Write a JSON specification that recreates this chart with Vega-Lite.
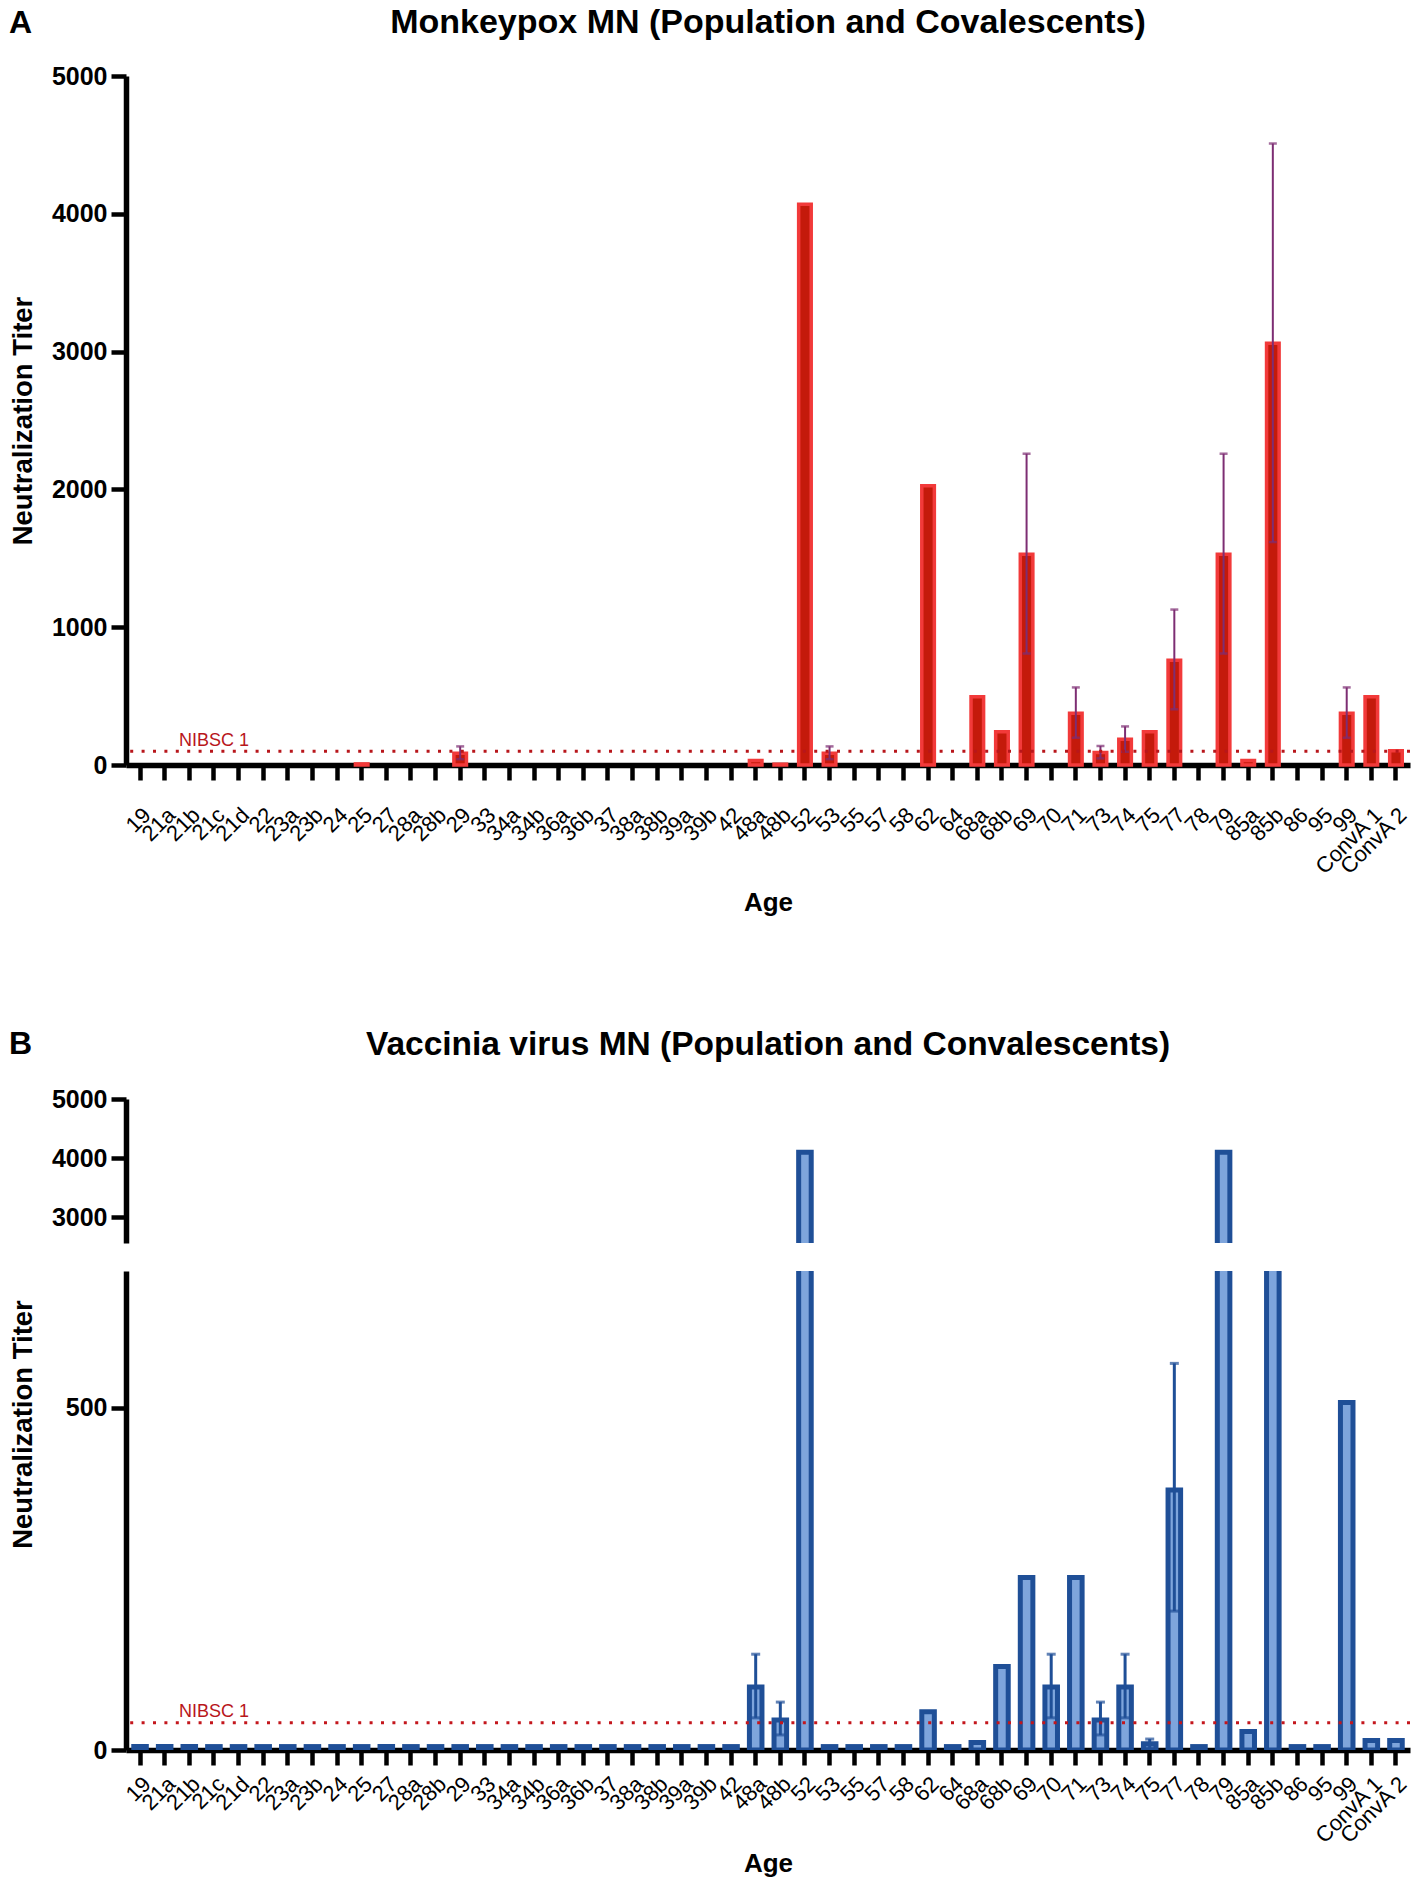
{
  "$schema": "https://vega.github.io/schema/vega-lite/v6.json",
  "padding": {"top": 6, "left": 8, "right": 4, "bottom": 2},
  "background": "white",
  "config": {
    "font": "Liberation Sans",
    "view": {"stroke": null},
    "axis": {
      "domainColor": "black", "domainWidth": 5.5,
      "tickColor": "black", "tickWidth": 4.5, "tickSize": 15,
      "labelColor": "black", "titleColor": "black", "grid": false,
      "labelFont": "Liberation Sans", "titleFont": "Liberation Sans",
      "titleFontWeight": "bold", "titleFontSize": 26, "zindex": 1
    },
    "axisY": {"labelFontSize": 25, "labelFontWeight": "bold", "labelPadding": 4, "minExtent": 80, "maxExtent": 80, "titlePadding": 9, "format": "d", "titleFontSize": 27.5},
    "axisX": {"labelFontSize": 22, "labelFontWeight": "normal", "labelAngle": -45},
    "title": {"fontSize": 34, "fontWeight": "bold", "color": "black", "font": "Liberation Sans"}
  },
  "datasets": {
    "mpxv": [
      {"age": "19", "titer": 0}, {"age": "21a", "titer": 0}, {"age": "21b", "titer": 0}, {"age": "21c", "titer": 0},
      {"age": "21d", "titer": 0}, {"age": "22", "titer": 0}, {"age": "23a", "titer": 0}, {"age": "23b", "titer": 0},
      {"age": "24", "titer": 0}, {"age": "25", "titer": 8}, {"age": "27", "titer": 0}, {"age": "28a", "titer": 0},
      {"age": "28b", "titer": 0}, {"age": "29", "titer": 85, "lo": 42, "hi": 135}, {"age": "33", "titer": 0},
      {"age": "34a", "titer": 0}, {"age": "34b", "titer": 0}, {"age": "36a", "titer": 0}, {"age": "36b", "titer": 0},
      {"age": "37", "titer": 0}, {"age": "38a", "titer": 0}, {"age": "38b", "titer": 0}, {"age": "39a", "titer": 0},
      {"age": "39b", "titer": 0}, {"age": "42", "titer": 0}, {"age": "48a", "titer": 32}, {"age": "48b", "titer": 6},
      {"age": "52", "titer": 4070}, {"age": "53", "titer": 85, "lo": 42, "hi": 135}, {"age": "55", "titer": 0},
      {"age": "57", "titer": 0}, {"age": "58", "titer": 0}, {"age": "62", "titer": 2027}, {"age": "64", "titer": 0},
      {"age": "68a", "titer": 495}, {"age": "68b", "titer": 241}, {"age": "69", "titer": 1530, "lo": 809, "hi": 2259},
      {"age": "70", "titer": 0}, {"age": "71", "titer": 376, "lo": 198, "hi": 563}, {"age": "73", "titer": 90, "lo": 48, "hi": 138},
      {"age": "74", "titer": 186, "lo": 96, "hi": 280}, {"age": "75", "titer": 241}, {"age": "77", "titer": 760, "lo": 404, "hi": 1128},
      {"age": "78", "titer": 0}, {"age": "79", "titer": 1530, "lo": 809, "hi": 2259}, {"age": "85a", "titer": 32},
      {"age": "85b", "titer": 3060, "lo": 1618, "hi": 4510}, {"age": "86", "titer": 0}, {"age": "95", "titer": 0},
      {"age": "99", "titer": 376, "lo": 198, "hi": 563}, {"age": "ConvA 1", "titer": 495}, {"age": "ConvA 2", "titer": 103}
    ],
    "vacv": [
      {"age": "19", "titer": 5}, {"age": "21a", "titer": 5}, {"age": "21b", "titer": 5}, {"age": "21c", "titer": 5},
      {"age": "21d", "titer": 5}, {"age": "22", "titer": 5}, {"age": "23a", "titer": 5}, {"age": "23b", "titer": 5},
      {"age": "24", "titer": 5}, {"age": "25", "titer": 5}, {"age": "27", "titer": 5}, {"age": "28a", "titer": 5},
      {"age": "28b", "titer": 5}, {"age": "29", "titer": 5}, {"age": "33", "titer": 5}, {"age": "34a", "titer": 5},
      {"age": "34b", "titer": 5}, {"age": "36a", "titer": 5}, {"age": "36b", "titer": 5}, {"age": "37", "titer": 5},
      {"age": "38a", "titer": 5}, {"age": "38b", "titer": 5}, {"age": "39a", "titer": 5}, {"age": "39b", "titer": 5},
      {"age": "42", "titer": 5}, {"age": "48a", "titer": 92, "lo": 47, "hi": 140}, {"age": "48b", "titer": 44, "lo": 22, "hi": 70},
      {"age": "52", "titer": 4096}, {"age": "53", "titer": 5}, {"age": "55", "titer": 5}, {"age": "57", "titer": 5},
      {"age": "58", "titer": 5}, {"age": "62", "titer": 56}, {"age": "64", "titer": 5}, {"age": "68a", "titer": 11},
      {"age": "68b", "titer": 122}, {"age": "69", "titer": 252}, {"age": "70", "titer": 92, "lo": 47, "hi": 140},
      {"age": "71", "titer": 252}, {"age": "73", "titer": 44, "lo": 22, "hi": 70}, {"age": "74", "titer": 92, "lo": 47, "hi": 140},
      {"age": "75", "titer": 9, "lo": 3, "hi": 16}, {"age": "77", "titer": 380, "lo": 203, "hi": 565}, {"age": "78", "titer": 5},
      {"age": "79", "titer": 4096}, {"age": "85a", "titer": 27}, {"age": "85b", "titer": 2048}, {"age": "86", "titer": 5},
      {"age": "95", "titer": 5}, {"age": "99", "titer": 508}, {"age": "ConvA 1", "titer": 14}, {"age": "ConvA 2", "titer": 14}
    ],
    "refA": [{"label": "NIBSC 1", "titer": 100, "at": "21c"}],
    "refB": [{"label": "NIBSC 1", "titer": 40, "at": "21c"}]
  },
  "spacing": 111,
  "vconcat": [
    {
      "title": {"text": "A", "anchor": "start", "offset": -34, "fontSize": 32},
      "vconcat": [
        {
          "width": 1284, "height": 689,
          "title": {"text": "Monkeypox MN (Population and Covalescents)", "offset": 24},
          "layer": [
            {
              "data": {"name": "mpxv"},
              "transform": [{"filter": "datum.titer > 0"}],
              "mark": {"type": "bar", "fill": "#c41a0b", "stroke": "#f23a3a", "strokeWidth": 3.5},
              "encoding": {
                "x": {"field": "age", "type": "nominal", "sort": null,
                  "scale": {"domain": ["19","21a","21b","21c","21d","22","23a","23b","24","25","27","28a","28b","29","33","34a","34b","36a","36b","37","38a","38b","39a","39b","42","48a","48b","52","53","55","57","58","62","64","68a","68b","69","70","71","73","74","75","77","78","79","85a","85b","86","95","99","ConvA 1","ConvA 2"], "paddingInner": 0.49, "paddingOuter": 0.315},
                  "axis": {"title": "Age", "labelPadding": 24, "titlePadding": 11}},
                "y": {"field": "titer", "type": "quantitative", "scale": {"domain": [0, 5000]},
                  "axis": {"title": "Neutralization Titer", "values": [0, 1000, 2000, 3000, 4000, 5000]}}
              }
            },
            {
              "data": {"name": "mpxv"},
              "transform": [{"filter": "isValid(datum.lo)"}],
              "mark": {"type": "rule", "color": "#7d2e73", "strokeWidth": 2},
              "encoding": {
                "x": {"field": "age", "type": "nominal", "sort": null},
                "y": {"field": "lo", "type": "quantitative"},
                "y2": {"field": "hi"}
              }
            },
            {
              "data": {"name": "mpxv"},
              "transform": [{"filter": "isValid(datum.lo)"}],
              "mark": {"type": "tick", "color": "#7d2e73", "size": 8, "thickness": 2.5, "orient": "horizontal"},
              "encoding": {
                "x": {"field": "age", "type": "nominal", "sort": null},
                "y": {"field": "hi", "type": "quantitative"}
              }
            },
            {
              "data": {"name": "mpxv"},
              "transform": [{"filter": "isValid(datum.lo)"}],
              "mark": {"type": "tick", "color": "#7d2e73", "size": 8, "thickness": 2.5, "orient": "horizontal"},
              "encoding": {
                "x": {"field": "age", "type": "nominal", "sort": null},
                "y": {"field": "lo", "type": "quantitative"}
              }
            },
            {
              "data": {"name": "refA"},
              "mark": {"type": "rule", "color": "#b8161b", "strokeWidth": 3, "strokeDash": [3, 8.4]},
              "encoding": {"y": {"field": "titer", "type": "quantitative"}}
            },
            {
              "data": {"name": "refA"},
              "mark": {"type": "text", "color": "#b8161b", "fontSize": 18, "align": "center", "baseline": "alphabetic", "dy": -5},
              "encoding": {
                "x": {"field": "at", "type": "nominal", "sort": null},
                "y": {"field": "titer", "type": "quantitative"},
                "text": {"field": "label"}
              }
            }
          ]
        }
      ]
    },
    {
      "title": {"text": "B", "anchor": "start", "offset": -33.5, "fontSize": 32},
      "spacing": 28,
      "vconcat": [
        {
          "width": 1284, "height": 144,
          "title": {"text": "Vaccinia virus MN (Population and Convalescents)", "offset": 25, "fontSize": 33.5},
          "data": {"name": "vacv"},
          "mark": {"type": "bar", "fill": "#7ea5dc", "stroke": "#1f4f97", "strokeWidth": 5, "clip": true},
          "encoding": {
            "x": {"field": "age", "type": "nominal", "sort": null,
              "scale": {"domain": ["19","21a","21b","21c","21d","22","23a","23b","24","25","27","28a","28b","29","33","34a","34b","36a","36b","37","38a","38b","39a","39b","42","48a","48b","52","53","55","57","58","62","64","68a","68b","69","70","71","73","74","75","77","78","79","85a","85b","86","95","99","ConvA 1","ConvA 2"], "paddingInner": 0.49, "paddingOuter": 0.315},
              "axis": null},
            "y": {"field": "titer", "type": "quantitative", "scale": {"domain": [2560, 5000]},
              "axis": {"title": null, "values": [3000, 4000, 5000]}}
          }
        },
        {
          "width": 1284, "height": 479,
          "layer": [
            {
              "data": {"name": "vacv"},
              "mark": {"type": "bar", "fill": "#7ea5dc", "stroke": "#1f4f97", "strokeWidth": 5, "clip": true},
              "encoding": {
                "x": {"field": "age", "type": "nominal", "sort": null,
                  "scale": {"domain": ["19","21a","21b","21c","21d","22","23a","23b","24","25","27","28a","28b","29","33","34a","34b","36a","36b","37","38a","38b","39a","39b","42","48a","48b","52","53","55","57","58","62","64","68a","68b","69","70","71","73","74","75","77","78","79","85a","85b","86","95","99","ConvA 1","ConvA 2"], "paddingInner": 0.49, "paddingOuter": 0.315},
                  "axis": {"title": "Age", "labelPadding": 8, "titlePadding": 3}},
                "y": {"field": "titer", "type": "quantitative", "scale": {"domain": [0, 700]},
                  "axis": {"title": "Neutralization Titer", "values": [0, 500], "titleY": 153}}
              }
            },
            {
              "data": {"name": "vacv"},
              "transform": [{"filter": "isValid(datum.lo)"}],
              "mark": {"type": "rule", "color": "#1f4f97", "strokeWidth": 3},
              "encoding": {
                "x": {"field": "age", "type": "nominal", "sort": null},
                "y": {"field": "lo", "type": "quantitative"},
                "y2": {"field": "hi"}
              }
            },
            {
              "data": {"name": "vacv"},
              "transform": [{"filter": "isValid(datum.lo)"}],
              "mark": {"type": "tick", "color": "#1f4f97", "size": 9, "thickness": 3, "orient": "horizontal"},
              "encoding": {
                "x": {"field": "age", "type": "nominal", "sort": null},
                "y": {"field": "hi", "type": "quantitative"}
              }
            },
            {
              "data": {"name": "vacv"},
              "transform": [{"filter": "isValid(datum.lo)"}],
              "mark": {"type": "tick", "color": "#1f4f97", "size": 9, "thickness": 3, "orient": "horizontal"},
              "encoding": {
                "x": {"field": "age", "type": "nominal", "sort": null},
                "y": {"field": "lo", "type": "quantitative"}
              }
            },
            {
              "data": {"name": "refB"},
              "mark": {"type": "rule", "color": "#c4161c", "strokeWidth": 3, "strokeDash": [3, 8.4]},
              "encoding": {"y": {"field": "titer", "type": "quantitative"}}
            },
            {
              "data": {"name": "refB"},
              "mark": {"type": "text", "color": "#b8161b", "fontSize": 18, "align": "center", "baseline": "alphabetic", "dy": -6},
              "encoding": {
                "x": {"field": "at", "type": "nominal", "sort": null},
                "y": {"field": "titer", "type": "quantitative"},
                "text": {"field": "label"}
              }
            }
          ]
        }
      ]
    }
  ]
}
